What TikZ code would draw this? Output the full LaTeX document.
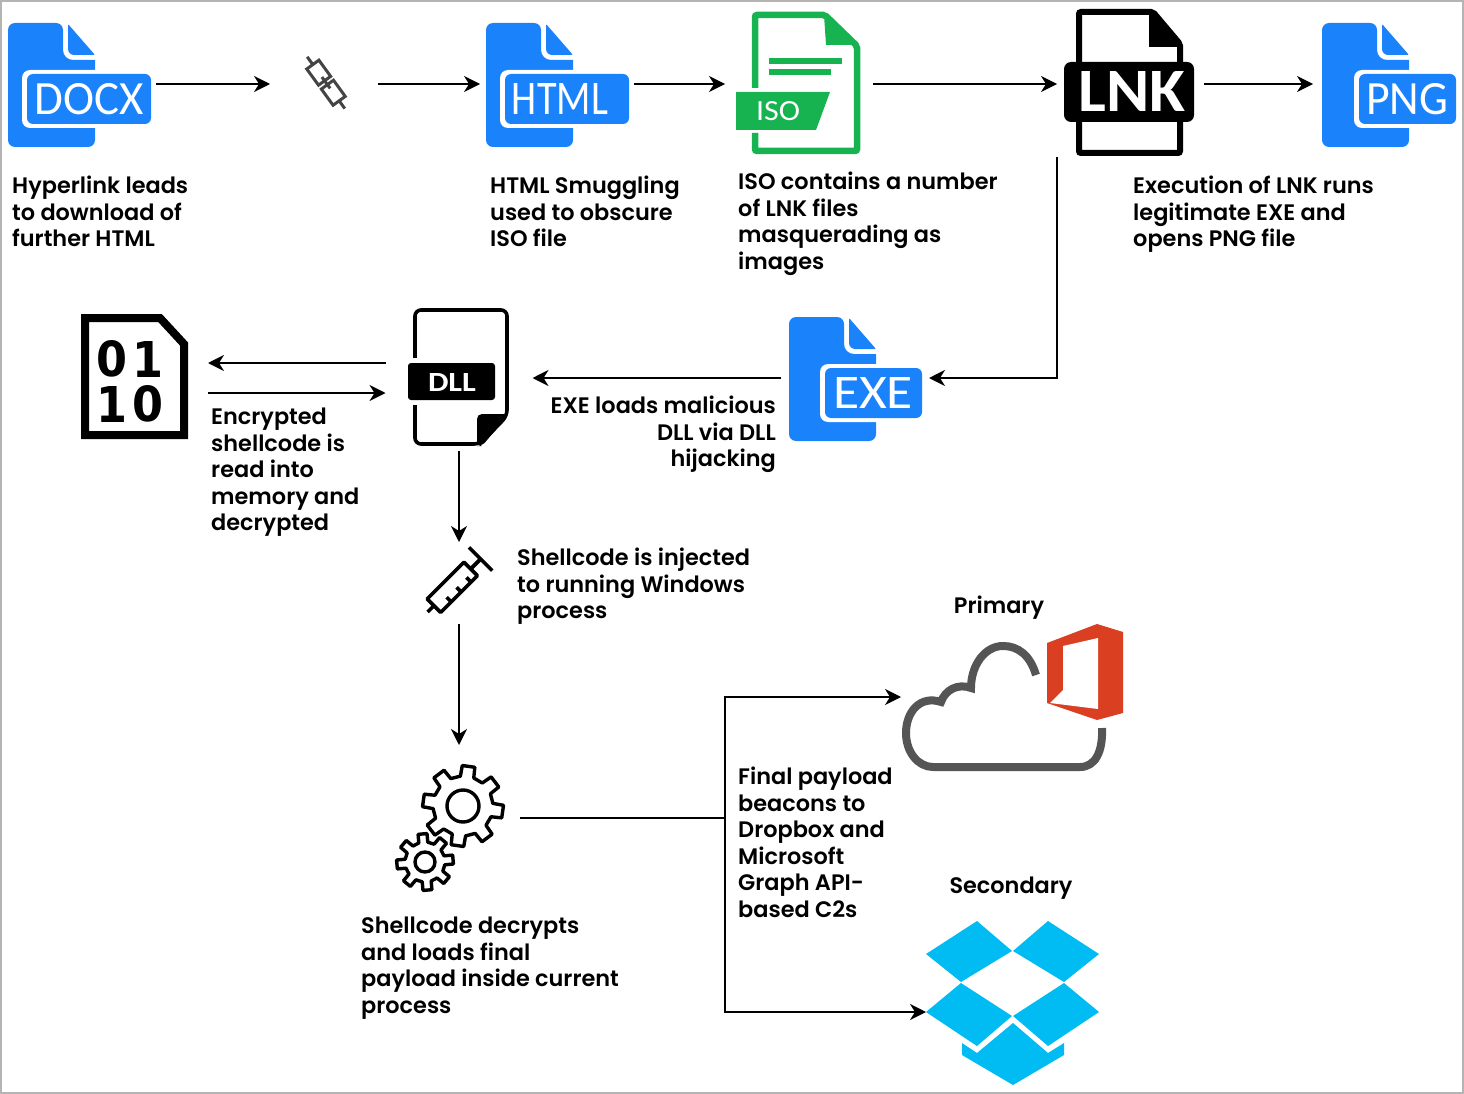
\documentclass[tikz,border=0pt]{standalone}
\usepackage{fontspec}
\usepackage{tikz}
\usetikzlibrary{arrows.meta}
\setmainfont{Poppins}[UprightFont=* SemiBold,BoldFont=* Bold]
\newfontfamily\iconfont{Carlito}
\newfontfamily\blockfont{DejaVu Sans}
\definecolor{fileblue}{HTML}{1A82FB}
\definecolor{isogreen}{HTML}{17B350}
\definecolor{cloudgray}{HTML}{555555}
\definecolor{officered}{HTML}{DB3F22}
\definecolor{boxblue}{HTML}{00BCF2}
\definecolor{framegray}{HTML}{B4B4B4}
\tikzset{
  arrow/.style={draw=black,line width=1.5pt,-{Stealth[length=16pt,width=16pt,inset=5pt]}},
  plainline/.style={draw=black,line width=1.5pt},
  spot/.style={rectangle,inner sep=0pt,outer sep=0pt},
  infotext/.style={anchor=north west,align=left,inner sep=0pt,font=\fontsize{22.4}{26.5}\selectfont},
  icontext/.style={inner sep=0pt,text=white},
}
% blue file: #1 #2 top left of the page, #3 left of the label, #4 right of the label,
% #5 middle of the word, #6 width of the word, #7 the word
\newcommand{\bluefile}[7]{
\begin{scope}[shift={(#1,#2)}]
\fill[fileblue,rounded corners=7pt] (0,0) -- (55,0) [rounded corners=10pt] -- (55,37) [sharp corners] -- (87,37) [rounded corners=7pt] -- (87,124) -- (0,124) -- cycle;
\fill[fileblue,rounded corners=1pt] (60,1) -- (87,32) -- (67,32) [rounded corners=6pt] -- (60,32) [rounded corners=1pt] -- cycle;
\fill[white,rounded corners=8pt] (#3,47) rectangle (95,105);
\fill[fileblue,rounded corners=6pt] (#3+5,51) rectangle (#4,101);
\node[icontext] at (#5,76) {\resizebox{#6pt}{31pt}{\iconfont #7}};
\end{scope}
}
% gear: #1 #2 middle, #3 tip radius, #4 root radius, #5 turn, #6 hole radius
\newcommand{\gearicon}[6]{
\draw[line width=3.4pt,fill=white,line join=round,shift={(#1,#2)}]
  (#5-32:#4) \foreach \a in {0,45,...,315} {
  -- (\a+#5-13:#4) -- (\a+#5-9:#3) -- (\a+#5+9:#3) -- (\a+#5+13:#4) } -- cycle;
\draw[line width=3.4pt,fill=white] (#1,#2) circle (#6);
}
\begin{document}
\begin{tikzpicture}[x=1pt,y=-1pt]
\useasboundingbox (0,0) rectangle (1464,1094);
\draw[framegray,line width=2pt] (1,1) rectangle (1463,1093);
% spots the connectors start and end on
\node[spot,minimum width=148pt,minimum height=124pt] (docx) at (82,84) {};
\node[spot,minimum width=108pt,minimum height=60pt] (link) at (324,84) {};
\node[spot,minimum width=154pt,minimum height=124pt] (html) at (557,84) {};
\node[spot,minimum width=148pt,minimum height=146pt] (iso) at (799,84) {};
\node[spot,minimum width=147pt,minimum height=146pt] (lnk) at (1130.5,84) {};
\node[spot,minimum width=140pt,minimum height=124pt] (png) at (1383,84) {};
\node[spot,minimum width=148pt,minimum height=124pt] (exe) at (855,378) {};
\node[spot,minimum width=147pt,minimum height=146pt] (dll) at (459,378) {};
\node[spot,minimum width=127pt,minimum height=125pt] (binfile) at (144.5,378) {};
\node[spot,minimum width=80pt,minimum height=82pt] (syringe) at (459,583) {};
\node[spot,minimum width=122pt,minimum height=146pt] (gears) at (459,818) {};
\node[spot,minimum width=224pt,minimum height=146pt] (cloud) at (1013,697) {};
\node[spot,minimum width=174pt,minimum height=146pt] (dropbox) at (1013,1012) {};
\coordinate (split) at (725,818);
% connectors
\draw[arrow] (docx.east) -- (link.west);
\draw[arrow] (link.east) -- (html.west);
\draw[arrow] (html.east) -- (iso.west);
\draw[arrow] (iso.east) -- (lnk.west);
\draw[arrow] (lnk.east) -- (png.west);
\draw[arrow] (lnk.south west) |- (exe.east);
\draw[arrow] (exe.west) -- (dll.east);
\draw[arrow] ([yshift=15pt]dll.west) -- ([yshift=15pt]binfile.east);
\draw[arrow] ([yshift=-15pt]binfile.east) -- ([yshift=-15pt]dll.west);
\draw[arrow] (dll.south) -- (syringe.north);
\draw[arrow] (syringe.south) -- (gears.north);
\draw[plainline] (gears.east) -- (split);
\draw[arrow] (split) |- (cloud.west);
\draw[arrow] (split) |- (dropbox.west);
% blue files
\bluefile{8}{23}{14}{143}{81}{109}{DOCX}
\bluefile{486}{23}{14}{143}{74}{96}{HTML}
\bluefile{1322}{23}{32}{134}{85}{82}{PNG}
\bluefile{789}{317}{31}{133}{84}{80}{EXE}
% chain
\begin{scope}[shift={(326,82.7)},rotate=-54,cloudgray!80!black,line width=3pt]
\draw (-32,0) -- (-22,0);
\draw (22,0) -- (32,0);
\draw (-22.4,-7.5) rectangle (-2.4,7.5);
\draw (2.4,-7.5) rectangle (22.4,7.5);
\draw (-7,0) -- (7,0);
\end{scope}
% iso file
\draw[isogreen,line width=6.5pt,rounded corners=2pt] (755,133) -- (755,151) -- (857,151) -- (857,46) -- (825,15) -- (755,15) -- (755,88);
\fill[isogreen] (824,15) -- (857,45) -- (826,45) -- cycle;
\fill[isogreen] (769,58) rectangle (842,64);
\fill[isogreen] (769,69) rectangle (831,75);
\fill[isogreen] (736,92) -- (830,92) -- (816,130) -- (736,130) -- cycle;
\node[icontext] at (778,111) {\resizebox{44pt}{19pt}{\iconfont ISO}};
% lnk file
\draw[line width=6pt,rounded corners=2pt] (1079,62) -- (1079,12) -- (1153,12) -- (1180,44) -- (1180,153) -- (1079,153) -- (1079,120);
\fill (1149,11) -- (1154,11) -- (1182,44) -- (1182,47) -- (1149,47) -- cycle;
\fill[rounded corners=7pt] (1064,62) rectangle (1194,122);
\node[icontext] at (1132,92) {\resizebox{107pt}{40pt}{\iconfont\bfseries LNK}};
% binary file
\draw[line width=8pt,miter limit=4] (85,318) -- (160,318) -- (184,344) -- (184,435) -- (85,435) -- cycle;
\node[inner sep=0pt] at (112,359) {\resizebox{31pt}{36pt}{\blockfont\bfseries 0}};
\node[inner sep=0pt] at (148.5,359) {\resizebox{31pt}{36pt}{\blockfont\bfseries 1}};
\node[inner sep=0pt] at (112,404) {\resizebox{31pt}{36pt}{\blockfont\bfseries 1}};
\node[inner sep=0pt] at (148.5,404) {\resizebox{31pt}{36pt}{\blockfont\bfseries 0}};
% dll file
\draw[line width=3.6pt,rounded corners=6pt] (507,416) -- (507,310) -- (415,310) -- (415,444) -- (480,444) -- cycle;
\fill[rounded corners=5pt] (477,414) -- (509,414) -- (482,446) -- (477,446) -- cycle;
\fill[white] (404,358) rectangle (497,405);
\fill[rounded corners=3pt] (408,363) rectangle (495,400);
\node[icontext] at (452,382) {\resizebox{48pt}{18pt}{\iconfont\bfseries DLL}};
% syringe
\begin{scope}[shift={(452.3,587.3)},rotate=45,line width=3.6pt,line join=round]
\draw (-26,-9.5) rectangle (26,9.5);
\draw[line width=4pt] (26,0) -- (40,0);
\draw (40,-16.5) -- (40,16.5);
\draw (-26,0) -- (-35,0);
\foreach \u in {-11,3,17} {\draw (\u,9.5) -- (\u,3);}
\end{scope}
% gears
\gearicon{425}{862}{28.5}{20}{40}{10}
\gearicon{463}{806}{40.5}{30}{8}{16}
% cloud and office
\draw[cloudgray,line width=8pt] (1036,675) .. controls (1030,655) and (1018,646) .. (1003,646) .. controls (985,646) and (971,665) .. (971,688) .. controls (958,683) and (945,690) .. (941,702) .. controls (920,695) and (906,712) .. (906,733) .. controls (906,752) and (918,767) .. (933,767) -- (1080,767) .. controls (1095,767) and (1103,752) .. (1102,728);
\fill[officered] (1047,643) -- (1097,624) -- (1123,632) -- (1123,713) -- (1097,720) -- (1047,703) -- cycle;
\fill[white] (1063,646) -- (1098,638) -- (1098,709) -- (1050,703) -- (1063,690) -- cycle;
% dropbox
\fill[boxblue] (926,954) -- (977,921) -- (1012,951) -- (961,982) -- cycle;
\fill[boxblue] (1013,951) -- (1048,921) -- (1099,954) -- (1064,982) -- cycle;
\fill[boxblue] (926,1012) -- (961,983) -- (1012,1016) -- (977,1046) -- cycle;
\fill[boxblue] (1013,1016) -- (1064,983) -- (1099,1012) -- (1048,1046) -- cycle;
\fill[boxblue] (962,1043) -- (977,1053) -- (1013,1023) -- (1048,1053) -- (1064,1043) -- (1064,1055) -- (1013,1085) -- (962,1055) -- cycle;
% texts
\node[infotext] (docxtext) at (12,176) {Hyperlink leads\\to download of\\further HTML};
\node[infotext] (htmltext) at (490,176) {HTML Smuggling\\used to obscure\\ISO file};
\node[infotext] (isotext) at (738,172) {ISO contains a number\\of LNK files\\masquerading as\\images};
\node[infotext] (lnktext) at (1133,176) {Execution of LNK runs\\legitimate EXE and\\opens PNG file};
\node[infotext] (bintext) at (211,408) {Encrypted\\shellcode is\\read into\\memory and\\decrypted};
\node[infotext,anchor=north east,align=right] (exetext) at (776,396) {EXE loads malicious\\DLL via DLL\\hijacking};
\node[infotext] (syringetext) at (517,548) {Shellcode is injected\\to running Windows\\process};
\node[infotext] (gearstext) at (361,917) {Shellcode decrypts\\and loads final\\payload inside current\\process};
\node[infotext] (splittext) at (738,767) {Final payload\\beacons to\\Dropbox and\\Microsoft\\Graph API-\\based C2s};
\node[infotext,anchor=center] (cloudtext) at (999,608) {Primary};
\node[infotext,anchor=center] (dropboxtext) at (1011,888) {Secondary};
\end{tikzpicture}
\end{document}
